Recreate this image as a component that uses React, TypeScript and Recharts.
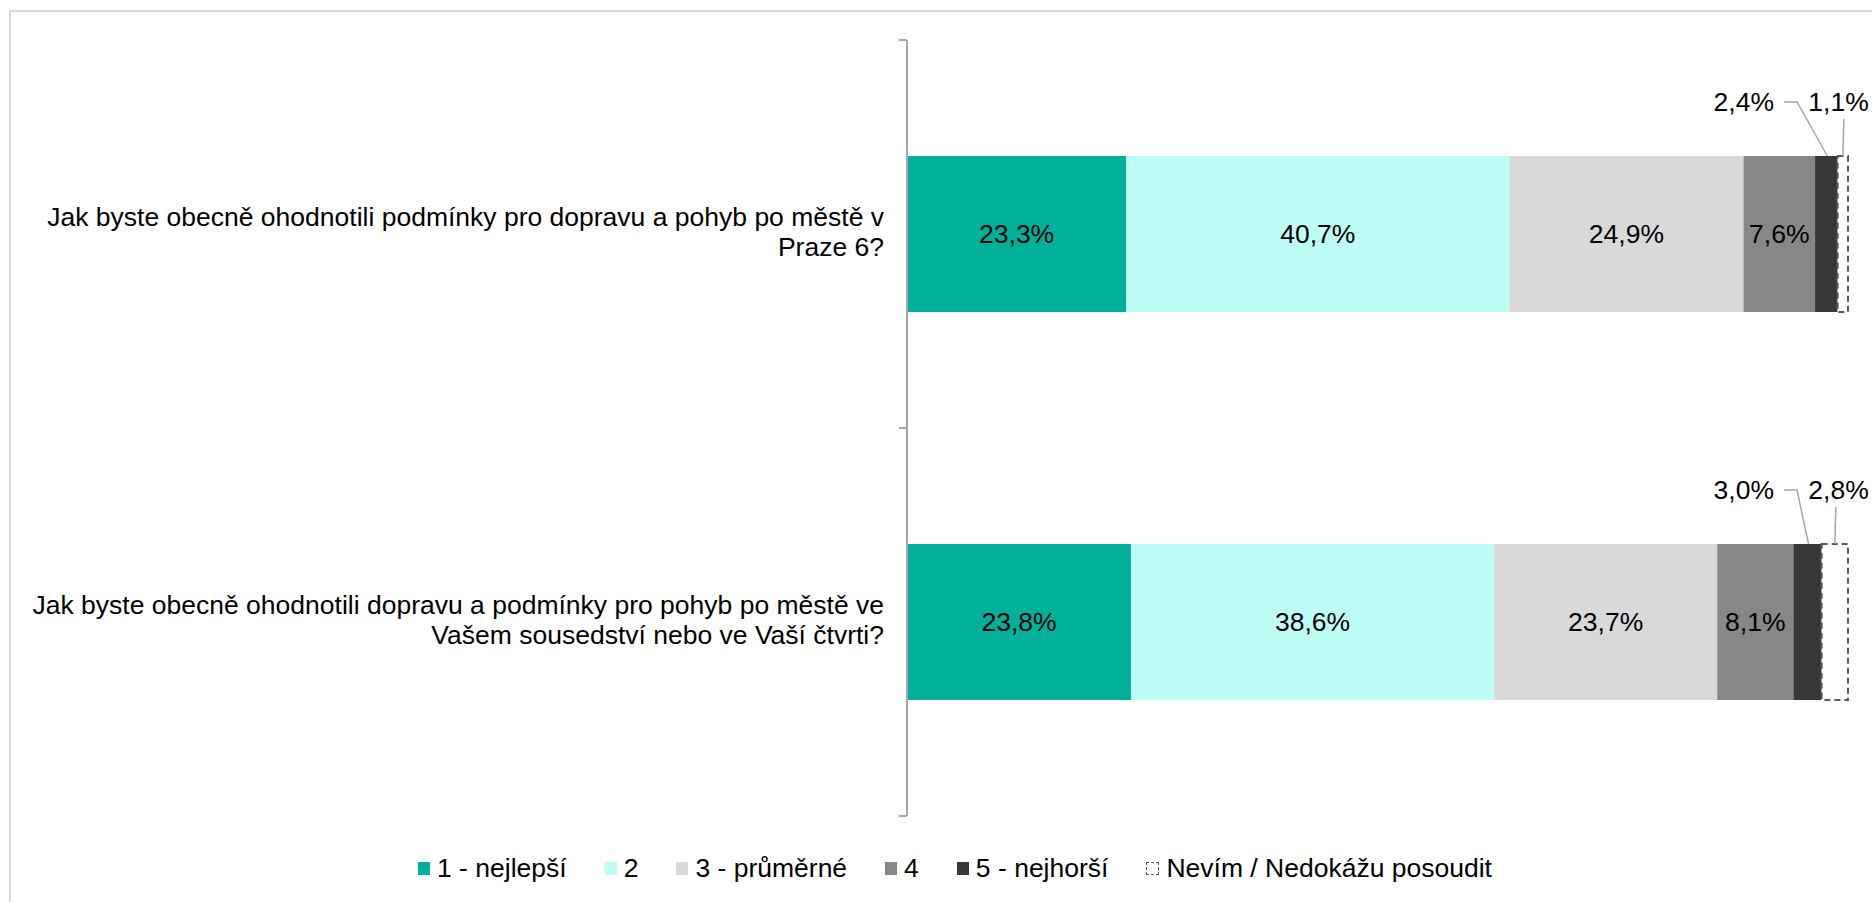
import React from "react";
import { Bar, BarChart, LabelList, Legend, XAxis, YAxis } from "recharts";

const FONT = '"Liberation Sans", Arial, sans-serif';
const AXIS = "#a6a6a6";
const LEADER = "#a6a6a6";
const COLORS = ["#00b09b", "#bdfdf5", "#d9d9d9", "#878787", "#383838", "#ffffff"];

const questions = [
  "Jak byste obecně ohodnotili podmínky pro dopravu a pohyb po městě v Praze 6?",
  "Jak byste obecně ohodnotili dopravu a podmínky pro pohyb po městě ve Vašem sousedství nebo ve Vaší čtvrti?",
];
const best = [23.3, 23.8];
const second = [40.7, 38.6];
const average = [24.9, 23.7];
const fourth = [7.6, 8.1];
const worst = [2.4, 3.0];
const dontKnow = [1.1, 2.8];

const seriesNames = ["1 - nejlepší", "2", "3 - průměrné", "4", "5 - nejhorší", "Nevím / Nedokážu posoudit"];

const data = questions.map((question, i) => ({
  question,
  s1: best[i],
  s2: second[i],
  s3: average[i],
  s4: fourth[i],
  s5: worst[i],
  s6: dontKnow[i],
}));

const fmt = (v: number) => v.toFixed(1).replace(".", ",") + "%";

const CHART_W = 1864;
const CHART_H = 886;
const MARGIN = { top: 32, right: 24, left: 0, bottom: 48 };
const LEGEND_H = 30;
const PLOT_H = CHART_H - MARGIN.top - MARGIN.bottom - LEGEND_H;
const BAND = PLOT_H / questions.length;
const TICK_SIZE = 8;
const TICK_MARGIN = 15;
const LABEL_WIDTH = 890;
const FONT_SIZE = 26.5;
const LINE_H = 30;

let measureCtx: CanvasRenderingContext2D | null = null;
function wrap(text: string, maxWidth: number): string[] {
  if (!measureCtx) {
    measureCtx = document.createElement("canvas").getContext("2d");
  }
  const ctx = measureCtx!;
  ctx.font = `${FONT_SIZE}px "Liberation Sans", Arial, sans-serif`;
  const words = text.split(" ");
  const lines: string[] = [];
  let cur = "";
  for (const w of words) {
    const next = cur ? cur + " " + w : w;
    if (cur && ctx.measureText(next).width > maxWidth) {
      lines.push(cur);
      cur = w;
    } else {
      cur = next;
    }
  }
  if (cur) lines.push(cur);
  return lines;
}

function QuestionTick(props: any) {
  const { x, y, payload } = props;
  const lines = wrap(String(payload.value), LABEL_WIDTH);
  const tx = x + TICK_MARGIN;
  return (
    <g>
      <line x1={tx} x2={tx + TICK_SIZE} y1={y - BAND / 2} y2={y - BAND / 2} stroke={AXIS} strokeWidth={2} />
      <line x1={tx} x2={tx + TICK_SIZE} y1={y + BAND / 2} y2={y + BAND / 2} stroke={AXIS} strokeWidth={2} />
      <text textAnchor="end" fontSize={FONT_SIZE} fontFamily={FONT} fill="#000" dominantBaseline="central">
        {lines.map((line, i) => (
          <tspan key={i} x={x} y={y + (i - (lines.length - 1) / 2) * LINE_H - 2}>
            {line}
          </tspan>
        ))}
      </text>
    </g>
  );
}

function geom(props: any) {
  const vb = props.viewBox ?? props;
  return { x: Number(vb.x), y: Number(vb.y), width: Number(vb.width), index: props.index ?? 0 };
}

function WorstLabel(props: any) {
  const { x, y, width, index } = geom(props);
  const unit = width / worst[index];
  const barEnd = x + width + dontKnow[index] * unit;
  const ty = y - 54;
  const mid = x + width / 2;
  return (
    <g>
      <polyline
        points={`${barEnd - 64},${ty} ${barEnd - 51},${ty} ${mid + 1},${y}`}
        fill="none"
        stroke={LEADER}
        strokeWidth={1.5}
      />
      <text x={barEnd - 74} y={ty} textAnchor="end" dominantBaseline="central" fontSize={FONT_SIZE} fontFamily={FONT} fill="#000">
        {fmt(worst[index])}
      </text>
    </g>
  );
}

function DontKnowLabel(props: any) {
  const { x, y, width, index } = geom(props);
  const barEnd = x + width;
  const mid = x + width / 2;
  const ty = y - 54;
  return (
    <g>
      <line x1={mid + 1} y1={y - 37} x2={mid} y2={y} stroke={LEADER} strokeWidth={1.5} />
      <text x={barEnd - 9.5} y={ty} textAnchor="middle" dominantBaseline="central" fontSize={FONT_SIZE} fontFamily={FONT} fill="#000">
        {fmt(dontKnow[index])}
      </text>
    </g>
  );
}

function LegendRow() {
  return (
    <div
      style={{
        display: "flex",
        justifyContent: "center",
        alignItems: "center",
        paddingLeft: 30,
        height: LEGEND_H,
        fontSize: FONT_SIZE,
        fontFamily: FONT,
        color: "#000",
      }}
    >
      {seriesNames.map((name, i) => (
        <div key={name} style={{ display: "flex", alignItems: "center", marginRight: i < seriesNames.length - 1 ? 38 : 0 }}>
          <span
            style={{
              display: "inline-block",
              width: i === 5 ? 13 : 12,
              height: 13,
              background: COLORS[i],
              border: i === 5 ? "1.5px dashed #595959" : "none",
              boxSizing: "border-box",
              marginRight: 7,
            }}
          />
          <span>{name}</span>
        </div>
      ))}
    </div>
  );
}

const keys = ["s1", "s2", "s3", "s4", "s5", "s6"];

export default function App() {
  return (
    <div style={{ position: "fixed", left: 0, top: 0, width: 1872, height: 902, overflow: "hidden", background: "#fff" }}>
      <div
        style={{
          position: "absolute",
          left: 9,
          top: 10,
          right: 0,
          bottom: 0,
          borderTop: "2px solid #d9d9d9",
          borderLeft: "2px solid #d9d9d9",
          pointerEvents: "none",
        }}
      />
      <div style={{ position: "absolute", left: 8, top: 8 }}>
        <BarChart
          width={CHART_W}
          height={CHART_H}
          data={data}
          layout="vertical"
          margin={MARGIN}
          style={{ fontFamily: FONT }}
        >
          <XAxis type="number" domain={[0, 100]} hide />
          <YAxis
            type="category"
            dataKey="question"
            width={899}
            interval={0}
            axisLine={{ stroke: AXIS, strokeWidth: 2 }}
            tickLine={false}
            tickSize={TICK_SIZE}
            tickMargin={TICK_MARGIN}
            tick={<QuestionTick />}
          />
          <Legend
            verticalAlign="bottom"
            content={() => <LegendRow />}
            wrapperStyle={{ left: 0, width: CHART_W, height: LEGEND_H, bottom: 11 }}
          />
          {keys.map((k, i) => (
            <Bar
              key={k}
              dataKey={k}
              stackId="a"
              name={seriesNames[i]}
              fill={COLORS[i]}
              stroke={i === 5 ? "#595959" : undefined}
              strokeWidth={i === 5 ? 2 : 0}
              strokeDasharray={i === 5 ? "6 4" : undefined}
              barSize={156}
              isAnimationActive={false}
            >
              {i < 4 && (
                <LabelList
                  dataKey={k}
                  position="center"
                  formatter={(v: any) => fmt(Number(v))}
                  fill="#000"
                  fontSize={FONT_SIZE}
                  fontFamily={FONT}
                />
              )}
              {i === 4 && <LabelList dataKey={k} content={<WorstLabel />} />}
              {i === 5 && <LabelList dataKey={k} content={<DontKnowLabel />} />}
            </Bar>
          ))}
        </BarChart>
      </div>
    </div>
  );
}
